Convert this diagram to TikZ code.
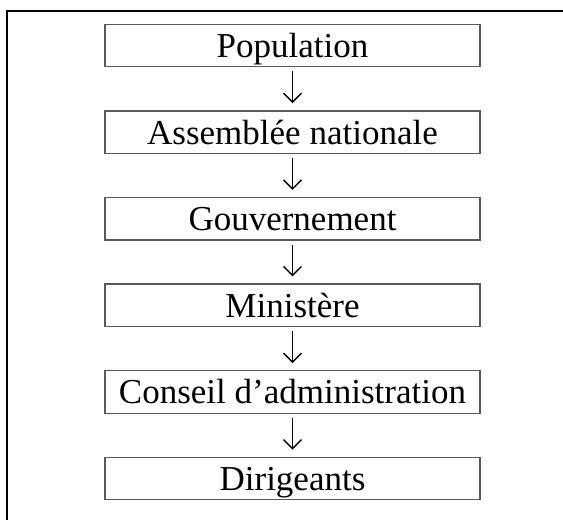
\documentclass[tikz,border=0pt]{standalone}
\usepackage{fontspec}
\setmainfont{Liberation Serif}
\usetikzlibrary{arrows.meta}
\begin{document}
\begin{tikzpicture}[x=1pt,y=-1pt,
  levelbox/.style={draw=black!65,line width=1.3pt,minimum width=375pt,minimum height=42.5pt,
    inner sep=0pt,text height=24pt,text depth=0pt,font=\fontsize{35}{40}\selectfont},
  flow/.style={line width=1.4pt,shorten <=4pt,shorten >=7pt,
    -{Straight Barb[length=9pt,width=18pt,line width=1.4pt]}}]
\useasboundingbox (0,0) rectangle (563,520);
\draw[line width=1.6pt] (7,525) -- (7,11) -- (570,11);
\node[levelbox] (p) at (292.5,45.5) {Population};
\node[levelbox] (a) at (292.5,132.1) {Assemblée nationale};
\node[levelbox] (g) at (292.5,218.7) {Gouvernement};
\node[levelbox] (m) at (292.5,305.3) {Ministère};
\node[levelbox] (c) at (292.5,391.9) {Conseil d’administration};
\node[levelbox] (d) at (292.5,478.5) {Dirigeants};
\draw[flow] (p) -- (a);
\draw[flow] (a) -- (g);
\draw[flow] (g) -- (m);
\draw[flow] (m) -- (c);
\draw[flow] (c) -- (d);
\end{tikzpicture}
\end{document}
